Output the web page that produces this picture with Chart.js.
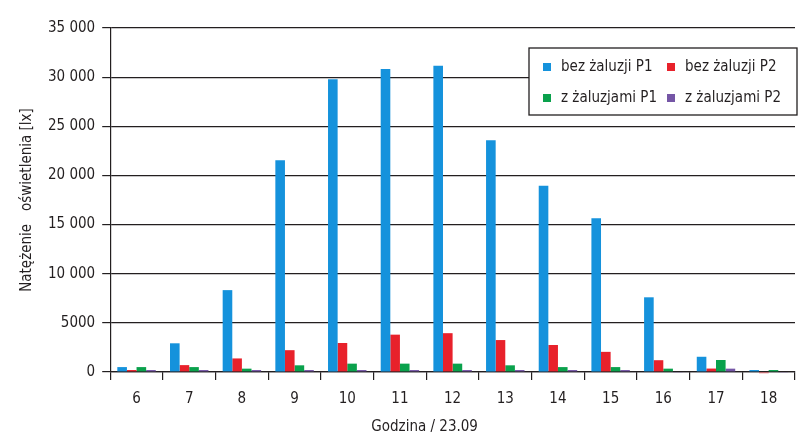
<!DOCTYPE html>
<html>
<head>
<meta charset="utf-8">
<script src="https://cdn.jsdelivr.net/npm/chart.js@4.4.1/dist/chart.umd.min.js"></script>
<style>
  html, body { margin: 0; padding: 0; background: #fff; }
  #wrap { width: 807px; height: 437px; }
</style>
</head>
<body>
<div id="wrap"><canvas id="chart"></canvas></div>
<script>
const hours = ['6', '7', '8', '9', '10', '11', '12', '13', '14', '15', '16', '17', '18'];
const bezP1 = [500, 2920, 8330, 21550, 29780, 30830, 31170, 23580, 18950, 15650, 7600, 1550, 200];
const bezP2 = [200, 700, 1380, 2220, 2950, 3800, 3950, 3250, 2750, 2050, 1200, 350, -120];
const zP1 = [500, 500, 340, 680, 850, 850, 850, 680, 500, 500, 340, 1220, 200];
const zP2 = [200, 200, 200, 200, 200, 200, 200, 200, 200, 200, -80, 340, -80];

const FONT = "'DejaVu Sans Condensed', 'Liberation Sans Narrow', sans-serif";
const ink = '#231f20';

Chart.defaults.font.family = FONT;
Chart.defaults.font.size = 15;
Chart.defaults.color = ink;

function spaced(v) {
    if (Math.abs(v) < 10000) return String(v);
    return String(v).replace(/\B(?=(\d{3})+(?!\d))/g, ' ');
}

// legend box drawn inside the plot, top right
const boxLegend = {
    id: 'boxLegend',
    afterDraw(chart) {
        const ctx = chart.ctx;
        const area = chart.chartArea;
        const x0 = area.right - 266, y0 = area.top + 20;
        const w = 268, h = 67;
        ctx.save();
        ctx.fillStyle = '#fff';
        ctx.fillRect(x0, y0, w, h);
        ctx.strokeStyle = ink;
        ctx.lineWidth = 1.3;
        ctx.strokeRect(x0, y0, w, h);
        ctx.font = '15px ' + FONT;
        ctx.textBaseline = 'middle';
        chart.data.datasets.forEach((ds, i) => {
            const col = i % 2, row = Math.floor(i / 2);
            const sx = x0 + 14 + col * 124;
            const sy = y0 + 19 + row * 31;
            ctx.fillStyle = ds.backgroundColor;
            ctx.fillRect(sx, sy - 4, 8, 8);
            ctx.fillStyle = ink;
            ctx.fillText(ds.label, sx + 18, sy);
        });
        // x title, set a bit left of the centre like the original
        const xs = chart.scales.x;
        ctx.textAlign = 'center';
        ctx.fillText('Godzina / 23.09', (area.left + area.right) / 2 - 28, xs.bottom - 9);
        ctx.restore();
    }
};

new Chart(document.getElementById('chart'), {
    type: 'bar',
    data: {
        labels: hours,
        datasets: [
            { label: 'bez żaluzji P1', data: bezP1, backgroundColor: '#1592dc' },
            { label: 'bez żaluzji P2', data: bezP2, backgroundColor: '#e8212b' },
            { label: 'z żaluzjami P1', data: zP1, backgroundColor: '#0aa14c' },
            { label: 'z żaluzjami P2', data: zP2, backgroundColor: '#7556a6' }
        ]
    },
    options: {
        responsive: true,
        maintainAspectRatio: false,
        animation: false,
        layout: { padding: { left: 18, right: 12, top: 28, bottom: 1 } },
        datasets: {
            bar: {
                categoryPercentage: 0.73,
                barPercentage: 1.0,
                borderWidth: 0,
                clip: false
            }
        },
        plugins: {
            legend: { display: false },
            tooltip: { enabled: false }
        },
        scales: {
            x: {
                grid: {
                    display: true,
                    drawOnChartArea: false,
                    color: ink,
                    tickLength: 8,
                    lineWidth: 1.2
                },
                border: { color: ink, width: 1.2 },
                ticks: { padding: 10, color: ink },
                title: {
                    display: true,
                    text: 'Godzina / 23.09',
                    color: 'rgba(0,0,0,0)',
                    padding: { top: 0, bottom: 0 }
                }
            },
            y: {
                min: 0,
                max: 35000,
                grid: {
                    color: ink,
                    tickLength: 8,
                    lineWidth: 1.2
                },
                border: { color: ink, width: 1.2 },
                ticks: {
                    stepSize: 5000,
                    padding: 7,
                    color: ink,
                    callback: v => spaced(v)
                },
                title: {
                    display: true,
                    text: 'Natężenie   oświetlenia [lx]',
                    color: ink,
                    padding: { top: 0, bottom: 5 }
                }
            }
        }
    },
    plugins: [boxLegend]
});
</script>
</body>
</html>
